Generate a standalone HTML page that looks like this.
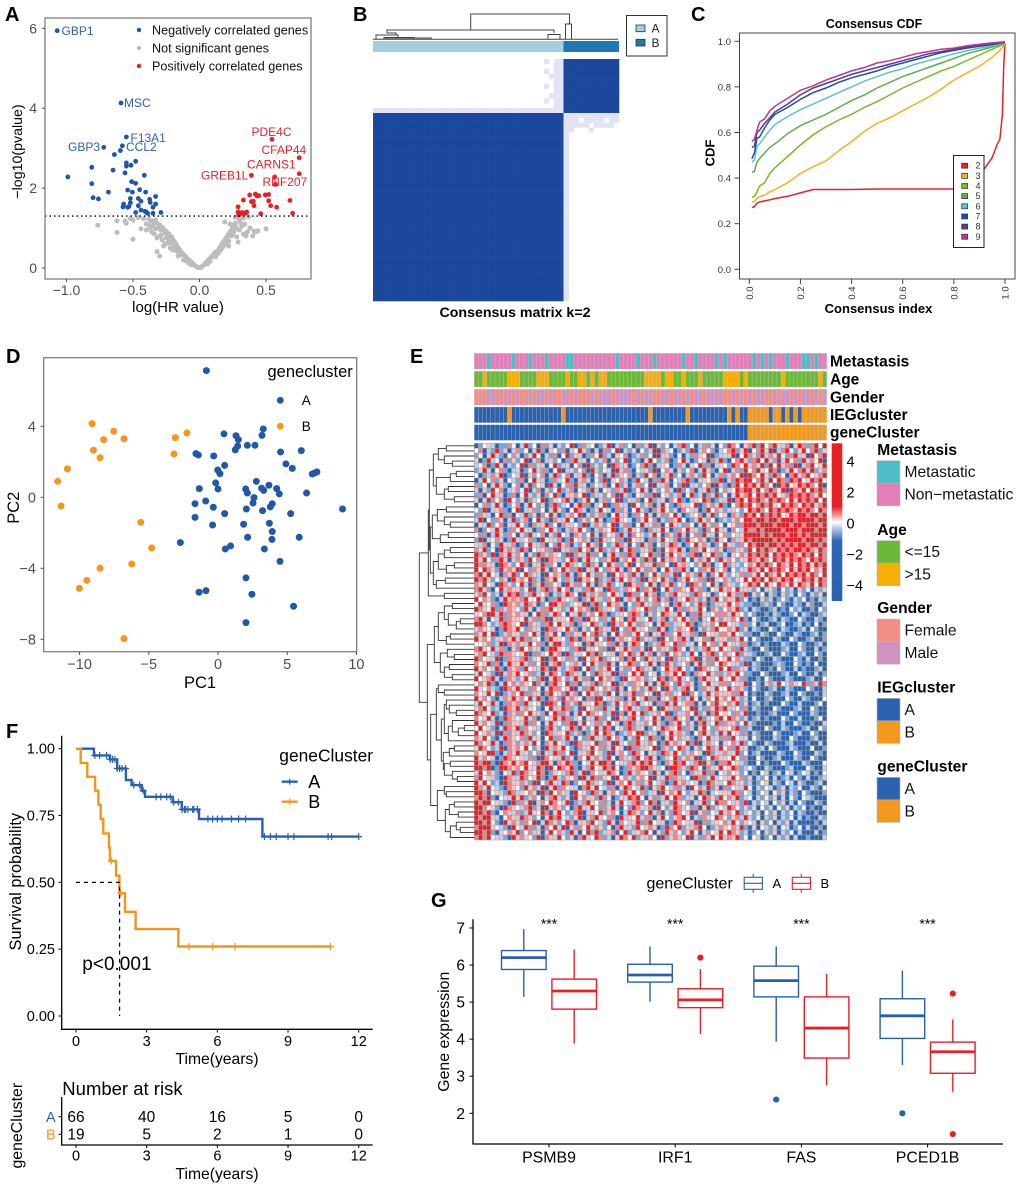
<!DOCTYPE html>
<html lang="en">
<head>
<meta charset="utf-8">
<title>Gene cluster multi-panel figure</title>
<style>
html,body{margin:0;padding:0;background:#fff;}
svg{display:block;font-family:"Liberation Sans",sans-serif;filter:blur(0.35px);}
</style>
</head>
<body>
<svg id="figure" xmlns="http://www.w3.org/2000/svg" width="1020" height="1187" viewBox="0 0 1020 1187">
<rect x="0" y="0" width="1020" height="1187" fill="#fff"/>
<g font-weight="700" font-size="20" fill="#000">
<text x="5" y="21">A</text>
<text x="353" y="21">B</text>
<text x="691" y="21">C</text>
<text x="6" y="363">D</text>
<text x="410" y="363">E</text>
<text x="6" y="738">F</text>
<text x="431" y="907">G</text>
</g>
<g id="panelA"></g>
<g id="panelB"></g>
<g id="panelC"></g>
<g id="panelD"></g>
<g id="panelE"></g>
<g id="panelF"></g>
<g id="panelG"></g>
</svg>
<script>
/* ---------- Panel A data ---------- */
const volcanoNegative=[[-1.07,5.94],[-0.59,4.13],[-0.55,3.28],[-0.72,3.02],[-0.58,3.06],[-0.595,2.94],[-0.64,2.84],[-0.81,2.52],[-0.99,2.28],[-0.81,2.11],[-0.65,2.45],[-0.55,2.63],[-0.55,2.55],[-0.515,2.57],[-0.48,2.67],[-0.56,2.38],[-0.415,2.32],[-0.51,2.16],[-0.48,2.12],[-0.685,1.9],[-0.8,1.76],[-0.76,1.73],[-0.54,1.95],[-0.505,1.9],[-0.45,1.96],[-0.405,1.9],[-0.52,1.74],[-0.46,1.74],[-0.44,1.67],[-0.375,1.72],[-0.37,1.64],[-0.33,1.79],[-0.33,1.6],[-0.57,1.6],[-0.575,1.53],[-0.54,1.52],[-0.52,1.63],[-0.46,1.56],[-0.35,1.52],[-0.48,1.39],[-0.44,1.45],[-0.41,1.42],[-0.39,1.37],[-0.35,1.37],[-0.29,1.39],[-0.53,1.54],[-0.4,1.4]];
const volcanoPositive=[[0.545,3.22],[0.75,2.76],[0.75,2.36],[0.39,2.32],[0.565,2.28],[0.57,2.09],[0.377,1.83],[0.42,1.85],[0.43,1.81],[0.445,1.81],[0.495,1.83],[0.52,1.84],[0.33,1.7],[0.39,1.66],[0.405,1.67],[0.41,1.56],[0.52,1.68],[0.535,1.56],[0.58,1.52],[0.68,1.69],[0.7,1.37],[0.46,1.36],[0.29,1.53],[0.29,1.4],[0.305,1.35],[0.33,1.37],[0.355,1.4],[0.345,1.37],[0.295,1.33],[0.32,1.39]];
const volcanoNeutral=[[-0.01,0.01],[-0.02,0.03],[-0.03,0.05],[-0.04,0.08],[-0.05,0.11],[-0.06,0.14],[-0.07,0.17],[-0.08,0.2],[-0.09,0.22],[-0.1,0.27],[-0.11,0.31],[-0.12,0.33],[-0.13,0.37],[-0.14,0.41],[-0.15,0.46],[-0.16,0.5],[-0.17,0.55],[-0.18,0.62],[-0.19,0.66],[-0.2,0.71],[-0.21,0.78],[-0.22,0.74],[-0.23,0.85],[-0.24,0.82],[-0.25,0.92],[-0.26,0.88],[-0.27,0.97],[-0.28,1.02],[-0.29,0.95],[-0.3,1.08],[-0.31,1.0],[-0.32,1.12],[-0.33,1.2],[-0.34,1.15],[-0.35,1.05],[-0.36,1.18],[-0.37,1.0],[-0.38,1.22],[-0.4,1.1],[-0.42,1.24],[-0.44,0.98],[-0.46,1.26],[-0.5,1.2],[-0.52,1.24],[-0.55,1.12],[-0.56,1.18],[-0.62,1.18],[-0.62,0.89],[-0.765,1.07],[-0.5,0.72],[-0.3,0.3],[-0.32,0.41],[-0.26,0.6],[-0.22,0.5],[-0.34,0.85],[-0.32,0.75],[-0.28,0.7],[-0.2,0.45],[-0.16,0.3],[-0.12,0.2],[-0.08,0.12],[-0.15,0.38],[-0.24,0.62],[-0.36,0.9],[-0.3,0.8],[-0.27,0.55],[-0.4,0.95],[-0.18,0.5],[-0.1,0.18],[-0.06,0.08],[-0.23,0.68],[-0.25,0.76],[-0.29,0.82],[-0.33,0.98],[-0.38,1.08],[-0.21,0.62],[-0.19,0.52],[-0.17,0.42],[-0.14,0.33],[0.01,0.01],[0.02,0.04],[0.03,0.07],[0.04,0.1],[0.05,0.14],[0.06,0.17],[0.07,0.21],[0.08,0.24],[0.09,0.28],[0.1,0.31],[0.11,0.35],[0.12,0.4],[0.13,0.36],[0.14,0.44],[0.15,0.5],[0.16,0.55],[0.15,0.42],[0.17,0.6],[0.18,0.65],[0.19,0.7],[0.17,0.5],[0.2,0.75],[0.21,0.8],[0.19,0.6],[0.22,0.85],[0.23,0.9],[0.24,0.95],[0.25,1.02],[0.26,1.08],[0.27,1.12],[0.22,0.68],[0.24,0.8],[0.28,1.0],[0.3,0.95],[0.32,1.05],[0.34,1.1],[0.36,0.9],[0.38,1.0],[0.3,1.2],[0.33,1.25],[0.37,1.28],[0.25,0.85],[0.28,0.78],[0.33,0.85],[0.35,0.8],[0.4,0.8],[0.42,0.9],[0.44,0.93],[0.5,0.98],[0.22,0.55],[0.12,0.28],[0.08,0.17],[0.06,0.1],[0.29,1.28],[0.27,1.27],[0.41,0.92],[0.23,1.1],[0.19,1.15],[0.29,0.65],[0.21,0.66],[0.18,0.55],[0.16,0.45],[0.14,0.36],[0.26,0.92],[0.31,1.12]];
const volcanoXTicks=[-1,-0.5,0,0.5];
const volcanoXTickLabels=["−1.0","−0.5","0.0","0.5"];
const volcanoYTicks=[0,2,4,6];
const volcanoThreshold=1.3;
const volcanoLegendLabels=["Negatively correlated genes","Not significant genes","Positively correlated genes"];

/* ---------- Panel B data ---------- */
const consensusRows=[
".......... .......... .......... ..... P.PP DDDDDDDDDDD",
".......... .......... .......... ..... ..PP DDDDDDDDDDD",
".......... .......... .......... ..... P.PP DDDDDDDDDDD",
".......... .......... .......... ..... .PPP DDDDDDDDDDD",
".......... .......... .......... ..... ..PP DDDDDDDDDDD",
".......... .......... .......... ..... P.PP DDDDDDDDDDD",
".......... .......... .......... ..... ..PP DDDDDDDDDDD",
".......... .......... .......... ..... .PPP DDDDDDDDDDD",
".......... .......... .......... ..... P.PP DDDDDDDDDDD",
".......... .......... .......... ..... ..PP DDDDDDDDDDD",
"PPPPPPPPPP PPPPPPPPPP PPPPPPPPPP PPPPP PPPP DDDDDDDDDDD",
"DDDDDDDDDD DDDDDDDDDD DDDDDDDDDD DDDDD DDDD PPPPPPPPPPP",
"DDDDDDDDDD DDDDDDDDDD DDDDDDDDDD DDDDD DDDD PPP.PPPP.PP",
"DDDDDDDDDD DDDDDDDDDD DDDDDDDDDD DDDDD DDDD PPPPP.PPPP.",
"DDDDDDDDDD DDDDDDDDDD DDDDDDDDDD DDDDD DDDD PP...P.....",
"DDDDDDDDDD DDDDDDDDDD DDDDDDDDDD DDDDD DDDD P..........",
"DDDDDDDDDD DDDDDDDDDD DDDDDDDDDD DDDDD DDDD P..........",
"DDDDDDDDDD DDDDDDDDDD DDDDDDDDDD DDDDD DDDD P..........",
"DDDDDDDDDD DDDDDDDDDD DDDDDDDDDD DDDDD DDDD P..........",
"DDDDDDDDDD DDDDDDDDDD DDDDDDDDDD DDDDD DDDD P..........",
"DDDDDDDDDD DDDDDDDDDD DDDDDDDDDD DDDDD DDDD P..........",
"DDDDDDDDDD DDDDDDDDDD DDDDDDDDDD DDDDD DDDD P..........",
"DDDDDDDDDD DDDDDDDDDD DDDDDDDDDD DDDDD DDDD P..........",
"DDDDDDDDDD DDDDDDDDDD DDDDDDDDDD DDDDD DDDD P..........",
"DDDDDDDDDD DDDDDDDDDD DDDDDDDDDD DDDDD DDDD P..........",
"DDDDDDDDDD DDDDDDDDDD DDDDDDDDDD DDDDD DDDD P..........",
"DDDDDDDDDD DDDDDDDDDD DDDDDDDDDD DDDDD DDDD P..........",
"DDDDDDDDDD DDDDDDDDDD DDDDDDDDDD DDDDD DDDD P..........",
"DDDDDDDDDD DDDDDDDDDD DDDDDDDDDD DDDDD DDDD P..........",
"DDDDDDDDDD DDDDDDDDDD DDDDDDDDDD DDDDD DDDD P..........",
"DDDDDDDDDD DDDDDDDDDD DDDDDDDDDD DDDDD DDDD P..........",
"DDDDDDDDDD DDDDDDDDDD DDDDDDDDDD DDDDD DDDD P..........",
"DDDDDDDDDD DDDDDDDDDD DDDDDDDDDD DDDDD DDDD P..........",
"DDDDDDDDDD DDDDDDDDDD DDDDDDDDDD DDDDD DDDD P..........",
"DDDDDDDDDD DDDDDDDDDD DDDDDDDDDD DDDDD DDDD P..........",
"DDDDDDDDDD DDDDDDDDDD DDDDDDDDDD DDDDD DDDD P..........",
"DDDDDDDDDD DDDDDDDDDD DDDDDDDDDD DDDDD DDDD P..........",
"DDDDDDDDDD DDDDDDDDDD DDDDDDDDDD DDDDD DDDD P..........",
"DDDDDDDDDD DDDDDDDDDD DDDDDDDDDD DDDDD DDDD P..........",
"DDDDDDDDDD DDDDDDDDDD DDDDDDDDDD DDDDD DDDD P..........",
"DDDDDDDDDD DDDDDDDDDD DDDDDDDDDD DDDDD DDDD P..........",
"DDDDDDDDDD DDDDDDDDDD DDDDDDDDDD DDDDD DDDD P..........",
"DDDDDDDDDD DDDDDDDDDD DDDDDDDDDD DDDDD DDDD P..........",
"DDDDDDDDDD DDDDDDDDDD DDDDDDDDDD DDDDD DDDD P..........",
"DDDDDDDDDD DDDDDDDDDD DDDDDDDDDD DDDDD DDDD P..........",
"DDDDDDDDDD DDDDDDDDDD DDDDDDDDDD DDDDD DDDD P..........",
"DDDDDDDDDD DDDDDDDDDD DDDDDDDDDD DDDDD DDDD P..........",
"DDDDDDDDDD DDDDDDDDDD DDDDDDDDDD DDDDD DDDD P..........",
"DDDDDDDDDD DDDDDDDDDD DDDDDDDDDD DDDDD DDDD P..........",
"DDDDDDDDDD DDDDDDDDDD DDDDDDDDDD DDDDD DDDD P.........."];
const consensusClusterSizes=[39,11];

/* ---------- Panel C data ---------- */
const cdfIndex=[0.01,0.02,0.03,0.04,0.06,0.08,0.1,0.15,0.2,0.25,0.3,0.35,0.4,0.45,0.5,0.55,0.6,0.65,0.7,0.75,0.8,0.85,0.9,0.95,0.97,0.98,0.99,0.995,1];
const cdfK2=[0.27,0.275,0.29,0.295,0.3,0.305,0.31,0.32,0.335,0.35,0.35,0.35,0.35,0.351,0.352,0.352,0.352,0.352,0.352,0.352,0.352,0.37,0.41,0.49,0.55,0.57,0.68,0.89,0.99];
const cdfK3=[0.296,0.297,0.31,0.318,0.325,0.34,0.35,0.38,0.42,0.45,0.475,0.52,0.56,0.605,0.64,0.665,0.695,0.725,0.755,0.79,0.83,0.86,0.89,0.93,0.95,0.96,0.975,0.98,0.985];
const cdfK4=[0.315,0.32,0.34,0.365,0.38,0.42,0.445,0.495,0.545,0.59,0.625,0.655,0.68,0.71,0.735,0.765,0.795,0.82,0.845,0.87,0.89,0.915,0.94,0.965,0.975,0.98,0.985,0.987,0.99];
const cdfK5=[0.425,0.43,0.47,0.485,0.51,0.535,0.55,0.595,0.63,0.655,0.68,0.71,0.74,0.765,0.795,0.82,0.845,0.865,0.885,0.905,0.925,0.945,0.96,0.975,0.982,0.985,0.988,0.99,0.992];
const cdfK6=[0.47,0.48,0.54,0.55,0.58,0.61,0.635,0.67,0.7,0.725,0.75,0.775,0.8,0.825,0.845,0.865,0.88,0.9,0.915,0.93,0.945,0.958,0.97,0.98,0.985,0.988,0.99,0.992,0.994];
const cdfK7=[0.485,0.51,0.575,0.58,0.62,0.655,0.68,0.71,0.745,0.775,0.795,0.82,0.84,0.855,0.87,0.89,0.905,0.92,0.935,0.95,0.96,0.97,0.978,0.986,0.99,0.992,0.994,0.995,0.996];
const cdfK8=[0.535,0.54,0.6,0.61,0.64,0.665,0.69,0.725,0.765,0.795,0.815,0.835,0.855,0.87,0.885,0.9,0.915,0.93,0.945,0.955,0.965,0.975,0.983,0.99,0.993,0.995,0.996,0.997,0.998];
const cdfK9=[0.56,0.57,0.61,0.645,0.66,0.695,0.715,0.75,0.785,0.805,0.83,0.85,0.87,0.885,0.905,0.915,0.93,0.945,0.955,0.965,0.97,0.98,0.987,0.993,0.995,0.996,0.997,0.998,0.999];
const cdfLegendLabels=["2","3","4","5","6","7","8","9"];
const cdfTicks=[0,0.2,0.4,0.6,0.8,1];
const cdfTickLabels=["0.0","0.2","0.4","0.6","0.8","1.0"];

/* ---------- Panel D data ---------- */
const pcaClusterA=[[-0.84,7.14],[0.43,3.57],[1.3,3.47],[1.47,3.25],[1.42,2.89],[1.25,2.67],[2.12,2.93],[2.67,2.93],[3.27,3.85],[3.18,3.49],[4.52,2.55],[6.02,2.63],[4.91,1.88],[5.37,1.63],[6.81,1.31],[6.98,1.37],[7.15,1.43],[-1.59,2.46],[-1.42,2.38],[-0.31,2.33],[0.48,1.8],[-0.02,1.54],[0.14,1.33],[-0.17,0.81],[0,0.47],[-1.35,0.49],[2.77,0.9],[2,0.47],[2.12,0.24],[3.15,0.51],[3.3,0.39],[3.68,0.68],[4.24,0.49],[4.43,0.19],[6.4,0.24],[2.6,-0.02],[2.53,-0.32],[-1.66,-0.36],[-0.89,-0.21],[-0.34,-0.56],[2.05,-0.66],[3.22,-0.75],[3.92,-0.36],[3.78,-0.54],[5.25,-0.92],[9,-0.66],[-1.66,-1.13],[0.48,-0.92],[-0.39,-1.56],[1.85,-1.52],[3.71,-1.46],[3.92,-1.93],[3.9,-2.37],[5.87,-2.25],[2.14,-2.25],[-2.72,-2.55],[0.91,-2.74],[0.53,-2.91],[3.35,-2.91],[4.48,-3.61],[2.02,-4.54],[2.45,-5.46],[-1.37,-5.35],[-0.87,-5.26],[5.46,-6.14],[2.02,-7.06]];
const pcaClusterB=[[-9.1,4.15],[-7.53,3.72],[-8.26,3.25],[-6.79,3.3],[-9,2.65],[-8.52,2.23],[-10.88,1.6],[-11.58,0.9],[-11.34,-0.49],[-3.08,3.36],[-2.24,3.62],[-3.18,2.44],[-5.58,-1.41],[-4.79,-2.85],[-6.23,-3.76],[-8.52,-4],[-9.48,-4.68],[-10.01,-5.13],[-6.79,-7.96]];
const pcaXTicks=[-10,-5,0,5,10];
const pcaYTicks=[-8,-4,0,4];

/* ---------- Panel E data ---------- */
const trackMetastasis="NNNTNNNNNTNNNTNNNTNNNNTTNNNNNNNNNNTNNNNTNNNTNNNNNNTNNTNNNNTNTNNNNNNTNTNTNNNTNNNTTNTNN";
const trackAge="GGOGGGGGOOOGGGGOOOGGGGOGGOOGOGOOGGGGGGGGGOOOOGOOGGOGGGOGGGGGOOOOGOGGGGGGGGOGGGGGGGGOG";
const trackGender="FFFMMFMFMFMFFMFMMFMFFMMFMFFFMFMMMFMMMMFMFMMFFMMFMMFMFMMFMMMMFFMFMFMFMMFFMFMMFMFMMFMFM";
const trackIEG="AAAAAAAABAAAAAAAAAAAABAAAAAAAAAAAAAAAAAAAABAAAAAAAABAAAAAAAAABABAABBBBBABBABABABBBBBB";
const trackGene="AAAAAAAAAAAAAAAAAAAAAAAAAAAAAAAAAAAAAAAAAAAAAAAAAAAAAAAAAAAAAAAAAABBBBBBBBBBBBBBBBBBB";
const heatmapRows=[
"0134201153 0261305140 2136015230 1460251305 1260413025 6130251403 1653045616 3564250465 15636",
"3502161402 5130261043 1502364102 0513602140 3126052301 4160253102 3561460356 4602563146 35614",
"1304621035 2014630215 0361420153 6120435012 5130624103 0215436012 4260365416 2546315624 06356",
"4016230514 1360250241 3015624031 2504136021 0463125013 6201340526 1035641563 6250463516 45360",
"2350164021 3605142036 1240350614 1306524013 5610243015 2043615024 3165364526 1636451602 56346",
"1462035102 4013625103 6024135062 1340625103 2416035204 1350264103 6025163564 3650146356 26145",
"3012546013 2604135026 1350426103 5026143502 1635024613 0254163025 1453606536 4165305625 63456",
"0263514032 1503642015 2361045203 1604352016 3205164032 5610243516 0416566356 4636516563 46563",
"5130264103 5026134062 0351624013 2503614025 1360425031 6024135062 1056365646 5306563465 65360",
"2041635024 1360250413 6125034162 0341526013 6204135206 1350246103 5236566463 5653606546 36565",
"1503642015 0362140536 1024536012 4135062103 2516034125 0361405261 3046456365 6563456565 65463",
"4026135063 1405236014 3562014630 2513601425 0361240536 1024365014 2605636565 4656536465 65636",
"0351462013 5026314056 1230465102 3601542063 1450263105 4236014526 1035656356 5643656536 56456",
"3160245103 6024513026 4103652014 6320514036 2105463120 5342016354 1243136565 3656565465 65365",
"1542036150 3261405362 0145360214 5103624015 3620415362 0143502613 4052165636 5656346566 56656",
"2603154026 1450362105 4263014536 2015643201 4635021546 3012645301 2145366566 5665666566 66566",
"0426135042 6310524613 0542316025 4136025103 6241503642 1530264153 0341566656 6656665665 66656",
"5013462015 3642015364 1025463102 5436012643 1052463015 3624105364 2053265565 6666566656 66566",
"3150264153 0416235041 6320541362 0534162053 4126305416 2035164203 5132466665 6566656656 56666",
"1604352016 4235106342 5016345201 6423510634 2051463250 1643520164 3052465666 6656566665 66565",
"4250316425 0136425031 6450213645 0312654031 6250314652 0136452013 6421536566 5665656566 56656",
"5461306254 1650324516 0425163504 6125304651 2450163546 2051463254 0152416365 6546565665 65465",
"6541605462 5304165254 3160542651 3046251650 4365104635 2156043651 2043526565 6365656546 56365",
"6463156402 5416350654 2136504623 1546025364 1650362541 6304526316 2531426546 5365646565 36565",
"6554206541 3650426153 0465231654 0362514603 5246153064 5231465023 6142135465 6536546365 64656",
"6365416254 6031546205 3641560426 3154620536 4152036415 6203154623 5031426546 3656536465 63546",
"5646320546 1365420635 4162053641 5206354162 0536415260 3541620536 4132515463 6546365656 46536",
"6564135206 4536120546 3152064536 1250463521 6045362105 4632516043 5214363656 3654656346 56465",
"5463206541 3620546153 2064513620 5461320645 1362054613 2065413620 5421346563 6436546365 46365",
"5641036254 4136025614 6350241563 4065125436 1546036215 4362510346 4536242130 2410312041 30214",
"4563120465 6125643502 1465306254 5136420651 3645012563 4216534013 3641560413 0210412031 02140",
"6354102645 4563362015 6432501464 2153604526 4135625014 3652140563 5246130104 1201310213 01021",
"3643510654 5265401366 4512346056 1364520315 6425134056 2314650124 4635211001 2103100210 41002",
"6543615254 3164025563 4126354506 5243160254 3651426305 1542630541 3546120210 0120103120 01031",
"4356626154 5420365146 5304261453 6501243565 2041365426 3051642355 5264313100 1021001302 10012",
"5640326154 4362515604 2436150643 1526340564 2361450253 6415023641 4253610310 0120210031 00210",
"6653125654 3605421563 6425014365 2106453641 5230465124 3650142536 6342151301 2001300120 10301",
"2543201654 6315240651 4362504136 5426031564 2351640125 4360214563 3526140210 0310210012 03100",
"5463601254 4153620546 3051426356 1403625146 3504261536 2451063425 5463211002 1003100210 01201",
"6453124546 2651430562 4316505426 3160254356 1425063145 6204351624 4152630310 0021003100 12001",
"3345126054 5426351046 6215340562 4351620465 3012564361 5240363514 6324150120 1000210031 00120",
"5643625104 1635420566 4321560423 5106346251 4063524165 3041256436 3451621003 1000120031 00201",
"4563216554 3460152364 5061423656 1342053614 6250416354 1263045613 5236142100 1200310012 00310",
"6534260154 2561436056 3415206354 6123450563 1642530614 2356041563 4635211031 0021000310 20010",
"5346150264 4625136045 6132540364 1562034651 3264056412 3504625136 5342160210 0012100310 10300",
"6453261054 5163426506 2145603612 5463041536 5240136456 3120654326 3615240210 0103100201 00120",
"2634106254 6345120465 3165240316 5426051364 6134025463 6105436251 2546311003 1000120031 00201",
"6345620154 1463256046 5312641503 6452106345 4123650546 2310564236 4362510010 3100021000 12003",
"3546102635 2543614056 2361504256 1436052154 3620465316 2540136425 5134260310 4526325436 15265",
"6435210654 6241530465 5326041562 3541620354 1265306412 5630154263 3625410310 0120021000 31002",
"5346360125 3615240563 4162503645 2163045261 5340625143 6053126454 4251630100 2100120031 00102",
"6453102546 4536261054 1625430516 6342510463 2615043562 1463025364 5364120300 1200031002 10003",
"2634620154 5162340665 3054162436 5012635416 2340516263 4516203564 3526140120 1000310020 00130",
"4563120654 6254310362 4651206345 1624035642 1563064251 3460215465 6243150210 0031000120 03100",
"6543612054 1536425036 5140263654 3126050463 6124536014 2536140563 4315260010 0120003100 02100",
"5346201654 3462501346 2651430426 5130642563 1436205164 3502614356 3654120120 1000310020 00130",
"6453260154 4261530462 3156046325 1463205614 2536410526 3140562361 5241362100 0010200310 01002",
"3634102654 6153420564 1326504136 2650341652 4013265436 1520463154 4356112000 3100210001 20031",
"6345260514 2654130652 4361250146 3654012536 6142053645 2103564126 2634150210 0031000120 03100",
"5463102654 3516240361 5264031562 4163520416 3265104635 2410536241 5163240310 0021003100 01200",
"6534620154 1452630546 3210654236 1540623156 4253016452 3616045230 4352613100 2100012000 10020",
"4653126054 5363140625 4631052463 5126340615 2436054136 5204136526 3516240012 0310002100 03001",
"5346610254 6241350426 5136024563 2160453165 3042165463 1253406142 5246130120 0002100310 00210",
"6453201654 3425106534 2614053625 4163052416 3564012361 4526013654 4363150031 0012000210 03100",
"6566106546 4563256640 5465103264 6650342564 6563105465 6325664105 5634210030 1000310002 10003",
"6656016654 5364465063 6546102563 4656301545 6654230665 4165305446 3465123100 2100012000 31002",
"2635410326 1654365014 3256146053 2465301625 4316204561 3052461503 2534130103 2012032013 20103",
"5634210654 2653461056 2143506265 1430635214 5360426154 2306514623 4263514021 3020120310 20012",
"6463120654 4521603564 2650134652 3160453625 1463250164 5234016542 3652412013 4021032041 00120",
"6546321054 3164526046 1534205646 3215046532 6104563251 4063526140 5134263021 3201402130 02103",
"6650342165 2435406163 5420634165 2045316463 5124063546 3124650234 4265132013 2031402103 10001",
"5656103426 4612530456 2140635241 6530142656 3041526365 1240365416 3546123021 3140203103 21000",
"6566342106 1526045365 3460125643 5120463256 1365024164 3502461365 5324160213 2031402031 00210",
"6653410654 3256140625 4130562463 1546203165 4250631465 2315046123 2653141403 1203140213 01002",
"6656103542 5126436504 6312560423 6145302654 1362504165 3260451326 4536123120 3140213021 00100",
"6566420354 2654130465 6321460256 4351062436 2510463145 6302154365 3145262130 2140213020 10021",
"6656310645 4153602654 1365024563 2164053246 1563420165 3426051243 5263143204 1302140200 00102",
"5666432106 3265140536 2604153625 4130562416 3254016536 1425630145 4352610403 2140320130 20010",
"6656104354 6135240463 5216403656 1245036124 5630416253 1463025346 3654120130 2140213020 00201",
"5656342106 2543160542 6314056236 5120465361 4253061452 3604152636 2546130320 1302140200 10002"];
const heatmapLegendGroups=[
 {title:"Metastasis",labels:["Metastatic","Non−metastatic"]},
 {title:"Age",labels:["<=15",">15"]},
 {title:"Gender",labels:["Female","Male"]},
 {title:"IEGcluster",labels:["A","B"]},
 {title:"geneCluster",labels:["A","B"]}];
const heatmapTrackNames=["Metastasis","Age","Gender","IEGcluster","geneCluster"];
const colorbarTicks=[4,2,0,-2,-4];
const rowTree=[55,
 [46,[45,[41,[36,[28,0,0],[30,0,[22,0,0]]],[38,[24,[18,0,0],0],[30,[26,0,0],[20,0,0]]]],
     [44,[42,[37,[28,0,0],[30,0,[24,0,0]]],[34,[26,0,0],0]],[41,[36,[30,[24,0,0],0],[28,[20,0,0],0]],[38,[29,0,0],0]]]],
  [30,0,0]],
 [47,[40,[36,[30,[22,0,0],[26,0,[18,[14,0,0],0]]],[28,[24,0,0],0]],[34,[27,0,[20,0,0]],[30,[25,0,0],[22,0,0]]]],
  [43.6,[38,[36,0,[30,0,0]],[33,[30,[28,0,[25,0,[18,0,0]]],[26,[22,0,[16,[10,0,0],0]],0]],[31,[25,[20,0,0],0],[30,[24,0,0],[22,0,[17,0,0]]]]]],
   [37,[30,0,[28,0,0]],[29,[25,[20,0,0],[16,0,0]],[24,[18,0,[14,0,0]],0]]]]]];

/* ---------- Panel F data ---------- */
const survivalTimesA=[0,0.76,1.44,1.75,2.12,2.36,2.79,2.93,4.1,4.49,5.22,7.91,12];
const survivalProbA=[1,0.975,0.96,0.926,0.883,0.864,0.843,0.82,0.8,0.773,0.737,0.671,0.671];
const survivalTimesB=[0,0.2,0.48,0.81,0.95,1.05,1.16,1.4,1.44,1.7,1.84,2.08,2.53,4.34,10.8];
const survivalProbB=[1,0.947,0.895,0.843,0.79,0.737,0.683,0.63,0.58,0.525,0.459,0.39,0.325,0.26,0.26];
const censorTimesA=[0.8,1,1.3,1.45,1.55,1.65,1.75,1.85,1.95,2.1,2.45,2.7,2.85,3.4,3.6,3.85,4,4.15,4.35,4.5,4.6,4.65,4.75,4.95,5,5.15,5.6,5.8,6,6.2,6.6,6.9,7.2,8,8.25,8.5,9,9.25,10.7,10.85,12];
const censorTimesB=[1.5,1.9,4.8,5.8,6.75,10.8];
const medianSurvival=1.85;
const survivalXTicks=[0,3,6,9,12];
const survivalYTicks=[0,0.25,0.5,0.75,1];
const survivalYTickLabels=["0.00","0.25","0.50","0.75","1.00"];
const riskCountsA=[66,40,16,5,0];
const riskCountsB=[19,5,2,1,0];

/* ---------- Panel G data ---------- */
const boxGenes=["PSMB9","IRF1","FAS","PCED1B"];
const boxStatsA=[[5.14,5.88,6.2,6.39,6.97],[5.01,5.54,5.73,6.02,6.5],[3.93,5.14,5.58,5.97,6.5],[3.3,4.02,4.63,5.09,5.85]];
const boxStatsB=[[3.88,4.81,5.3,5.62,6.42],[4.14,4.85,5.06,5.36,5.89],[2.75,3.49,4.3,5.14,5.76],[2.58,3.08,3.66,3.92,4.53]];
const boxOutliersA=[[],[],[2.37],[2.0]];
const boxOutliersB=[[],[6.2],[],[5.23,1.44]];
const boxYTicks=[2,3,4,5,6,7];

/* ---------- helpers ---------- */
const SVGNS="http://www.w3.org/2000/svg";
function add(parent,tag,attrs,text){
  const el=document.createElementNS(SVGNS,tag);
  for(const k in attrs){el.setAttribute(k,attrs[k]);}
  if(text!==undefined){el.textContent=text;}
  parent.appendChild(el);
  return el;
}
function txt(parent,x,y,s,size,anchor,fill,weight,name,rot){
  const a={x:x,y:y,"font-size":size,"text-anchor":anchor,fill:fill};
  if(weight){a["font-weight"]=weight;}
  if(rot){a.transform="rotate("+rot+" "+x+" "+y+")";}
  const el=add(parent,"text",a,s);
  
  
  return el;
}
function ln(parent,x1,y1,x2,y2,stroke,w,name,dash){
  const a={x1:x1,y1:y1,x2:x2,y2:y2,stroke:stroke,"stroke-width":w};
  if(dash){a["stroke-dasharray"]=dash;}
  const el=add(parent,"line",a);
  
  
  return el;
}
function rct(parent,x,y,w,h,fill,stroke,sw,name){
  const a={x:x,y:y,width:w,height:h,fill:fill};
  if(stroke){a.stroke=stroke;a["stroke-width"]=sw;}
  const el=add(parent,"rect",a);
  
  
  return el;
}
function dot(parent,x,y,r,fill,name){
  const el=add(parent,"circle",{cx:x,cy:y,r:r,fill:fill});
  
  
  return el;
}
function pth(parent,d,stroke,w,name,fill){
  const el=add(parent,"path",{d:d,stroke:stroke,"stroke-width":w,fill:fill||"none"});
  
  
  return el;
}
const BLUE="#2a5fb0",RED="#ee1c25",ORANGE="#f7941d",AXIS="#4d4d4d",BOX="#7f7f7f";

/* ---------- Panel A ---------- */
(function(){
  const g=document.getElementById("panelA");
  const X=v=>199.5+133*v, Y=v=>268-39.95*v;
  volcanoNeutral.forEach(p=>dot(g,X(p[0]),Y(p[1]),2.5,"#bdbdbd","neutral-gene-point"));
  volcanoNegative.forEach(p=>dot(g,X(p[0]),Y(p[1]),2.4,"#1f56a8","negative-gene-point"));
  volcanoPositive.forEach(p=>dot(g,X(p[0]),Y(p[1]),2.4,"#ee1c25","positive-gene-point"));
  ln(g,45,Y(volcanoThreshold),311,Y(volcanoThreshold),"#000",1.4,"significance-threshold","1.5 3");
  rct(g,45,18,266,261,"none",BOX,1.3,"plot-border");
  volcanoXTicks.forEach((v,i)=>{
    ln(g,X(v),279,X(v),282,AXIS,1,"x-tick");
    txt(g,X(v),295,volcanoXTickLabels[i],14,"middle",AXIS,0,"x-tick-label");
  });
  volcanoYTicks.forEach(v=>{
    ln(g,42,Y(v),45,Y(v),AXIS,1,"y-tick");
    txt(g,37,Y(v)+5,String(v),14,"end",AXIS,0,"y-tick-label");
  });
  txt(g,178,312,"log(HR value)",15,"middle","#000",0,"x-axis-title");
  txt(g,22,151.5,"−log10(pvalue)",14.2,"middle","#000",0,"y-axis-title",-90);
  const legendColors=["#1f56a8","#bdbdbd","#ee1c25"];
  volcanoLegendLabels.forEach((s,i)=>{
    const ly=30+18*i;
    dot(g,139,ly,2.2,legendColors[i],"legend-marker");
    txt(g,152,ly+4.3,s,12.6,"start","#111",0,"legend-label");
  });
  const c1="#2f62b4",c2="#ec1f26";
  txt(g,61.5,35,"GBP1",12,"start",c1,0,"gene-label-gbp1");
  txt(g,124,107,"MSC",12,"start",c1,0,"gene-label-msc");
  txt(g,130.5,142,"F13A1",12,"start",c1,0,"gene-label-f13a1");
  txt(g,126,151,"CCL2",12,"start",c1,0,"gene-label-ccl2");
  txt(g,68,151,"GBP3",12,"start",c1,0,"gene-label-gbp3");
  txt(g,251.5,136,"PDE4C",12,"start",c2,0,"gene-label-pde4c");
  txt(g,261.5,154,"CFAP44",12,"start",c2,0,"gene-label-cfap44");
  txt(g,247,168.5,"CARNS1",12,"start",c2,0,"gene-label-carns1");
  txt(g,201,179.5,"GREB1L",12,"start",c2,0,"gene-label-greb1l");
  txt(g,262.5,186,"RNF207",12,"start",c2,0,"gene-label-rnf207");
})();

/* ---------- Panel B ---------- */
(function(){
  const g=document.getElementById("panelB");
  const nA=consensusClusterSizes[0], nB=consensusClusterSizes[1];
  const colX=c=>c<nA?373+c*190.5/nA:563.5+(c-nA)*55.5/nB;
  const rowY=r=>r<nB?59+r*54/nB:113+(r-nB)*188/nA;
  const shade={D:"#1b479c",P:"#e2e3f3"};
  consensusRows.forEach((raw,r)=>{
    const row=raw.replace(/ /g,"");
    for(let c=0;c<row.length;c++){
      const ch=row[c];
      if(shade[ch]){
        const w=colX(c+1)-colX(c), h=rowY(r+1)-rowY(r);
        rct(g,colX(c),rowY(r),w+.3,h+.3,shade[ch],null,0,"consensus-cell");
      }
    }
  });
  pth(g,"M387 33V30H554V33M470.7 30V14H569.5V24M565.5 39V24H571.5V39M376 39V35H398V37M396 35V33H387M383 38H432M384 37.5H414V39M548 39V34.5H560V39M373 39.3H618","#444",1,"column-dendrogram");
  rct(g,373,41,190.5,11,"#a6cee3",null,0,"annotation-cluster-a");
  rct(g,563.5,41,55.5,11,"#1f78b4",null,0,"annotation-cluster-b");
  rct(g,626.5,15.5,40.5,40.5,"#fff","#333",1,"annotation-legend-box");
  rct(g,636,25,9,6.7,"#a6cee3","#333",.8,"legend-swatch-a");
  rct(g,636,39.3,9,6.7,"#1f78b4","#333",.8,"legend-swatch-b");
  txt(g,651.5,32.5,"A",12,"start","#222",0,"legend-label-a");
  txt(g,651.5,47,"B",12,"start","#222",0,"legend-label-b");
  txt(g,515,317,"Consensus matrix k=2",14.2,"middle","#000",700,"matrix-title");
})();

/* ---------- Panel C ---------- */
(function(){
  const g=document.getElementById("panelC");
  const X=v=>749.3+255.7*v, Y=v=>269.3-228*v;
  const series=[cdfK2,cdfK3,cdfK4,cdfK5,cdfK6,cdfK7,cdfK8,cdfK9];
  const colors=["#ee2020","#f5b020","#7ab82a","#5ab04a","#5cc0d0","#1f4ea0","#5b3a98","#c0358f"];
  rct(g,739.5,33,275.5,246,"#fff","#444",1,"plot-border");
  series.forEach((vals,i)=>{
    let d="";
    vals.forEach((v,j)=>{
      d+=(j?"L":"M")+X(cdfIndex[j]).toFixed(1)+" "+Y(v).toFixed(1);
    });
    pth(g,d,colors[i],1.5,"cdf-line-k"+cdfLegendLabels[i]);
  });
  cdfTicks.forEach((v,i)=>{
    ln(g,X(v),279,X(v),284,"#444",1,"x-tick");
    ln(g,734.5,Y(v),739.5,Y(v),"#444",1,"y-tick");
    txt(g,X(v)+3.5,293,cdfTickLabels[i],9.5,"middle","#333",0,"x-tick-label",-90);
    txt(g,731,Y(v)+3.5,cdfTickLabels[i],9.5,"end","#333",0,"y-tick-label");
  });
  txt(g,874,28,"Consensus CDF",12.5,"middle","#000",700,"chart-title");
  txt(g,878.5,313,"Consensus index",13,"middle","#000",700,"x-axis-title");
  txt(g,714.5,153,"CDF",13,"middle","#000",700,"y-axis-title",-90);
  rct(g,953.5,155.5,30.5,92,"#fff","#222",1,"legend-box");
  cdfLegendLabels.forEach((s,i)=>{
    const ly=165.7+i*10.15;
    rct(g,961.7,ly-2.5,6,5,colors[i],"#333",.7,"legend-swatch");
    txt(g,975.5,ly+3,s,9,"start","#333",0,"legend-label");
  });
})();

/* ---------- Panel D ---------- */
(function(){
  const g=document.getElementById("panelD");
  const X=v=>218+13.84*v, Y=v=>497.3-17.75*v;
  pcaClusterB.forEach(p=>dot(g,X(p[0]),Y(p[1]),3.5,ORANGE,"cluster-b-point"));
  pcaClusterA.forEach(p=>dot(g,X(p[0]),Y(p[1]),3.5,"#2159a8","cluster-a-point"));
  rct(g,43.7,357.7,313,294,"none",BOX,1.3,"plot-border");
  pcaXTicks.forEach(v=>{
    ln(g,X(v),651.7,X(v),655,AXIS,1,"x-tick");
    txt(g,X(v),669,v<0?"−"+Math.abs(v):String(v),14.5,"middle",AXIS,0,"x-tick-label");
  });
  pcaYTicks.forEach(v=>{
    ln(g,40.5,Y(v),43.7,Y(v),AXIS,1,"y-tick");
    txt(g,36,Y(v)+5,v<0?"−"+Math.abs(v):String(v),14.5,"end",AXIS,0,"y-tick-label");
  });
  txt(g,200,688,"PC1",16.5,"middle","#000",0,"x-axis-title");
  txt(g,19,507.7,"PC2",16.5,"middle","#000",0,"y-axis-title",-90);
  txt(g,267.5,377,"genecluster",16.5,"start","#000",0,"legend-title");
  dot(g,280.3,400.3,3.4,"#2159a8","legend-marker-a");
  dot(g,280.3,426.3,3.4,ORANGE,"legend-marker-b");
  txt(g,301.7,405,"A",13.5,"start","#000",0,"legend-label-a");
  txt(g,301.7,431,"B",13.5,"start","#000",0,"legend-label-b");
})();

/* ---------- Panel E ---------- */
(function(){
  const g=document.getElementById("panelE");
  const left=474.3,right=826.7,top=443.3,bottom=840;
  const rows=heatmapRows.map(r=>r.replace(/ /g,""));
  const nCols=85,nRows=rows.length;
  const cw=(right-left)/nCols,ch=(bottom-top)/nRows;
  const levels=["#2a62b2","#7da6d8","#bcd2ec","#f6f6f6","#f9c6c8","#f2848a","#ee1c25"];
  rows.forEach((row,r)=>{
    for(let c=0;c<nCols;c++){
      const v=+row[c%row.length];
      const cell=add(g,"rect",{x:left+c*cw,y:top+r*ch,width:cw,height:ch,fill:levels[v],stroke:"#a3a3a3","stroke-width":.5});
      
      
    }
  });
  const tracks=[trackMetastasis,trackAge,trackGender,trackIEG,trackGene];
  const trackTops=[353.3,371.3,389.3,407,424.7];
  const trackH=15.7;
  const trackCols=[
    {N:"#e27fb8",T:"#4fbdc6"},{G:"#6cb93a",O:"#f7ae0a"},{F:"#ef8f85",M:"#cf93c0"},
    {A:"#2b62b0",B:"#f39a1e"},{A:"#2b62b0",B:"#f39a1e"}];
  tracks.forEach((t,i)=>{
    for(let c=0;c<nCols;c++){
      const cell=add(g,"rect",{x:left+c*cw,y:trackTops[i],width:cw,height:trackH,fill:trackCols[i][t[c%t.length]],stroke:"#c8c8c8","stroke-width":.25});
      
      
    }
    txt(g,830,trackTops[i]+13,heatmapTrackNames[i],15.5,"start","#000",700,"annotation-track-label");
  });
  /* row dendrogram */
  let leaf=0,d="";
  const count=n=>n===0?1:count(n[1])+count(n[2]);
  const total=count(rowTree);
  const step=(bottom-top)/total;
  const hx=h=>left-h;
  function layout(n){
    if(n===0){const y=top+(leaf+.5)*step;leaf++;return {y:y,h:0};}
    const a=layout(n[1]),b=layout(n[2]);
    const h=n[0];
    d+="M"+hx(a.h).toFixed(1)+" "+a.y.toFixed(1)+"H"+hx(h).toFixed(1)+"V"+b.y.toFixed(1)+"H"+hx(b.h).toFixed(1);
    return {y:(a.y+b.y)/2,h:h};
  }
  layout(rowTree);
  pth(g,d,"#333",.9,"row-dendrogram");
  /* colour bar */
  const defs=add(g,"defs",{});
  const grad=add(defs,"linearGradient",{id:"cbar",x1:0,y1:0,x2:0,y2:1});
  [[0,"#e81f24"],[.4,"#e81f24"],[.46,"#f39da0"],[.5,"#ffffff"],[.54,"#b0c8e8"],[.62,"#2f66b4"],[1,"#2a62b0"]].forEach(s=>{
    add(grad,"stop",{offset:s[0],"stop-color":s[1]});
  });
  rct(g,831.7,443.3,10.6,157.7,"url(#cbar)",null,0,"color-scale-bar");
  colorbarTicks.forEach(v=>{
    txt(g,846.5,523-v*15.5+5.5,v<0?"−"+Math.abs(v):String(v),14.5,"start","#000",0,"color-scale-label");
  });
  /* legends */
  const titleY=[449.3,529.3,607.7,687,766];
  const legendCols=[["#4fbdc6","#e27fb8"],["#6cb93a","#f7ae0a"],["#ef8f85","#cf93c0"],["#2b62b0","#f39a1e"],["#2b62b0","#f39a1e"]];
  heatmapLegendGroups.forEach((grp,i)=>{
    txt(g,877.3,titleY[i]+5.5,grp.title,15.6,"start","#000",700,"legend-title");
    grp.labels.forEach((s,j)=>{
      const sy=titleY[i]+11.4+j*22.5;
      rct(g,877,sy,23,22.5,legendCols[i][j],"#b5b5b5",.6,"legend-swatch");
      txt(g,904.5,sy+16.5,s,15.6,"start","#111",0,"legend-label");
    });
  });
})();

/* ---------- Panel F ---------- */
(function(){
  const g=document.getElementById("panelF");
  const X=t=>76+23.56*t, Y=s=>1016-267.3*s;
  ln(g,61.7,735.7,61.7,1030,"#000",1.3,"y-axis-line");
  ln(g,61,1029.3,372.7,1029.3,"#000",1.3,"x-axis-line");
  survivalYTicks.forEach((v,i)=>{
    ln(g,58.5,Y(v),61.7,Y(v),"#000",1,"y-tick");
    txt(g,55,Y(v)+5,survivalYTickLabels[i],14.5,"end","#000",0,"y-tick-label");
  });
  survivalXTicks.forEach(v=>{
    ln(g,X(v),1029.3,X(v),1032.5,"#000",1,"x-tick");
    txt(g,X(v),1046,String(v),14.5,"middle","#000",0,"x-tick-label");
  });
  txt(g,217,1064,"Time(years)",15.7,"middle","#000",0,"x-axis-title");
  txt(g,21,881.7,"Survival probability",16.4,"middle","#000",0,"y-axis-title",-90);
  function stepPath(ts,ss){
    let d="M"+X(ts[0])+" "+Y(ss[0]);
    for(let i=1;i<ts.length;i++){d+="H"+X(ts[i]).toFixed(1)+"V"+Y(ss[i]).toFixed(1);}
    return d;
  }
  function survAt(ts,ss,t){let s=ss[0];for(let i=0;i<ts.length;i++){if(ts[i]<=t){s=ss[i];}}return s;}
  pth(g,stepPath(survivalTimesA,survivalProbA),BLUE,2.4,"survival-curve-a");
  pth(g,stepPath(survivalTimesB,survivalProbB),ORANGE,2.4,"survival-curve-b");
  censorTimesA.forEach(t=>{
    const y=Y(survAt(survivalTimesA,survivalProbA,t));
    pth(g,"M"+(X(t)-3.5)+" "+y+"h7M"+X(t)+" "+(y-3.5)+"v7",BLUE,1.2,"censor-mark-a");
  });
  censorTimesB.forEach(t=>{
    const y=Y(survAt(survivalTimesB,survivalProbB,t));
    pth(g,"M"+(X(t)-3.5)+" "+y+"h7M"+X(t)+" "+(y-3.5)+"v7",ORANGE,1.2,"censor-mark-b");
  });
  pth(g,"M"+X(0)+" "+Y(.5)+"H"+X(medianSurvival)+"V"+Y(0),"#000",1.2,"median-survival-guide").setAttribute("stroke-dasharray","4 4");
  txt(g,82.3,970,"p<0.001",19,"start","#000",0,"p-value-annotation");
  txt(g,279.3,761.7,"geneCluster",17.4,"start","#000",0,"legend-title");
  [[781.7,BLUE,"A"],[801.7,ORANGE,"B"]].forEach(e=>{
    ln(g,281.7,e[0],297.7,e[0],e[1],2.4,"legend-line");
    ln(g,289.7,e[0]-3,289.7,e[0]+3,e[1],1.2,"legend-censor");
    txt(g,308.3,e[0]+6.5,e[2],18,"start","#000",0,"legend-label");
  });
  /* risk table */
  txt(g,62.3,1095,"Number at risk",18.5,"start","#000",0,"risk-table-title");
  ln(g,61.7,1097,61.7,1145.5,"#000",1.3,"risk-y-axis-line");
  ln(g,61,1145,372.7,1145,"#000",1.3,"risk-x-axis-line");
  survivalXTicks.forEach((t,i)=>{
    txt(g,X(t),1122,String(riskCountsA[i]),15.5,"middle","#000",0,"risk-count-a");
    txt(g,X(t),1139.5,String(riskCountsB[i]),15.5,"middle","#000",0,"risk-count-b");
    ln(g,X(t),1145,X(t),1148,"#000",1,"risk-x-tick");
    txt(g,X(t),1160.7,String(t),14.5,"middle","#000",0,"risk-x-tick-label");
  });
  ln(g,58.5,1116.7,61.7,1116.7,"#000",1,"risk-y-tick");
  ln(g,58.5,1134.3,61.7,1134.3,"#000",1,"risk-y-tick");
  txt(g,46,1122,"A",14.5,"start",BLUE,0,"risk-row-label-a");
  txt(g,46,1139.5,"B",14.5,"start",ORANGE,0,"risk-row-label-b");
  txt(g,217,1179,"Time(years)",15.7,"middle","#000",0,"risk-x-axis-title");
  txt(g,22,1125.7,"geneCluster",15.9,"middle","#000",0,"risk-y-axis-title",-90);
})();

/* ---------- Panel G ---------- */
(function(){
  const g=document.getElementById("panelG");
  const Y=v=>1113.3-37.07*(v-2);
  const X=i=>549+126.2*i;
  const bw=44.6,off=25.2;
  const BL="#2a5fb0";
  function box(cx,st,color,outs,tag){
    ln(g,cx,Y(st[4]),cx,Y(st[3]),color,1.4,"upper-whisker-"+tag);
    ln(g,cx,Y(st[1]),cx,Y(st[0]),color,1.4,"lower-whisker-"+tag);
    rct(g,cx-bw/2,Y(st[3]),bw,Y(st[1])-Y(st[3]),"#fff",color,1.4,"iqr-box-"+tag);
    ln(g,cx-bw/2,Y(st[2]),cx+bw/2,Y(st[2]),color,2.8,"median-line-"+tag);
    outs.forEach(o=>dot(g,cx,Y(o),3.1,color,"outlier-"+tag));
  }
  boxGenes.forEach((name,i)=>{
    box(X(i)-off,boxStatsA[i],BL,boxOutliersA[i],"a");
    box(X(i)+off,boxStatsB[i],RED,boxOutliersB[i],"b");
    txt(g,X(i),928.5,"***",14,"middle","#000",0,"significance-stars");
    ln(g,X(i),1144,X(i),1147.5,"#000",1,"x-tick");
    txt(g,X(i),1162.5,name,15.9,"middle","#000",0,"x-tick-label");
  });
  boxYTicks.forEach(v=>{
    ln(g,469.5,Y(v),473,Y(v),"#000",1,"y-tick");
    txt(g,465,Y(v)+5.5,String(v),15.5,"end","#000",0,"y-tick-label");
  });
  ln(g,473,919.3,473,1144.5,"#000",1.3,"y-axis-line");
  ln(g,472.5,1144,1003,1144,"#000",1.3,"x-axis-line");
  txt(g,449,1031.7,"Gene expression",15.9,"middle","#000",0,"y-axis-title",-90);
  txt(g,646.5,888.5,"geneCluster",16,"start","#000",0,"legend-title");
  [[744.2,BL,"A",772.5],[792.3,RED,"B",820.5]].forEach(e=>{
    ln(g,e[0]+9,874,e[0]+9,892.7,e[1],1.1,"legend-whisker");
    rct(g,e[0],877.3,18.2,12,"#fff",e[1],1.1,"legend-box");
    ln(g,e[0],883.3,e[0]+18.2,883.3,e[1],1.1,"legend-median");
    txt(g,e[3],888,e[2],13,"start","#000",0,"legend-label");
  });
})();
</script>
</body>
</html>
